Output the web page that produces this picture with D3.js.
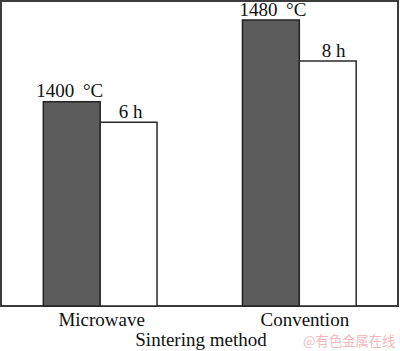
<!DOCTYPE html>
<html lang="en">
<head>
    <meta charset="UTF-8">
    <script src="https://cdn.jsdelivr.net/npm/d3@7"></script>
    <title>Sintering method</title>
    <style>
        body { margin: 0; background: #fff; }
        text { font-family: "Liberation Serif", "Times New Roman", serif; fill: #111; }
    </style>
</head>
<body>
    <div class="fig"></div>
    <script>
        // data
        const methods = ["Microwave", "Convention"];
        const temps = [1400, 1480];   // °C
        const hours = [6, 8];         // h
        const tempLabels = ["1400\u00a0\u2009°C", "1480\u00a0\u2009°C"];
        const hourLabels = ["6 h", "8 h"];

        const width = 400, height = 351;
        const frame = { left: 1, top: 1, right: 398, bottom: 306 };

        const svg = d3.select(".fig").append("svg")
            .attr("width", width)
            .attr("height", height);

        const x = d3.scaleBand()
            .domain(methods)
            .range([frame.left + 0.5, frame.right])
            .paddingInner(0.429)
            .paddingOuter(0.21);

        const sub = d3.scaleBand()
            .domain(["temp", "time"])
            .range([0, x.bandwidth()]);

        // no y axis drawn; temperature bars start at 1200 °C
        const yTemp = d3.scaleLinear().domain([1200, 1480]).range([frame.bottom, 20]);
        const yHour = d3.scaleLinear().domain([0, 8]).range([frame.bottom, 61]);

        const rows = methods.map((m, i) => ({
            method: m, temp: temps[i], hour: hours[i],
            tl: tempLabels[i], hl: hourLabels[i], i: i
        }));

        // frame
        svg.append("rect")
            .attr("x", frame.left)
            .attr("y", frame.top)
            .attr("width", frame.right - frame.left)
            .attr("height", frame.bottom - frame.top)
            .attr("fill", "none")
            .attr("stroke", "#3c3c3c")
            .attr("stroke-width", 2);

        const g = svg.selectAll(".grp")
            .data(rows)
            .enter()
            .append("g")
            .attr("transform", d => `translate(${x(d.method)},0)`);

        g.append("rect")
            .attr("x", sub("temp"))
            .attr("y", d => yTemp(d.temp))
            .attr("width", sub.bandwidth())
            .attr("height", d => frame.bottom - yTemp(d.temp))
            .attr("fill", "#5c5c5c")
            .attr("stroke", "#222")
            .attr("stroke-width", 1.5);

        g.append("rect")
            .attr("x", sub("time"))
            .attr("y", d => yHour(d.hour))
            .attr("width", sub.bandwidth())
            .attr("height", d => frame.bottom - yHour(d.hour))
            .attr("fill", "#fff")
            .attr("stroke", "#2a2a2a")
            .attr("stroke-width", 1.5);

        // labels of the right group sit a little further right in the original
        const nudge = d => d.i * 4;

        g.append("text")
            .attr("x", d => sub("temp") + sub.bandwidth() / 2 - 2 + nudge(d))
            .attr("y", d => yTemp(d.temp) - 4.5)
            .attr("text-anchor", "middle")
            .attr("font-size", 19)
            .text(d => d.tl);

        g.append("text")
            .attr("x", d => sub("time") + sub.bandwidth() / 2 + 2 + nudge(d))
            .attr("y", d => yHour(d.hour) - 4.5)
            .attr("text-anchor", "middle")
            .attr("font-size", 19)
            .text(d => d.hl);

        // category labels
        g.append("text")
            .attr("x", d => x.bandwidth() / 2 + 1.5 + nudge(d))
            .attr("y", 326)
            .attr("text-anchor", "middle")
            .attr("font-size", 19)
            .text(d => d.method);

        svg.append("text")
            .attr("x", 201)
            .attr("y", 346)
            .attr("text-anchor", "middle")
            .attr("font-size", 19)
            .text("Sintering method");

        svg.append("text")
            .attr("x", 303)
            .attr("y", 346)
            .attr("font-size", 13.3)
            .style("font-family", "'Noto Sans CJK SC', sans-serif")
            .style("fill", "#f1b9ba")
            .text("@有色金属在线");
    </script>
</body>
</html>
